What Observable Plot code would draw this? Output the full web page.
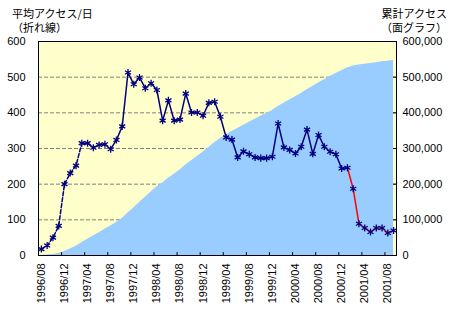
<!DOCTYPE html>
<html><head><meta charset="utf-8">
<script src="https://cdn.jsdelivr.net/npm/d3@7"></script>
<script src="https://cdn.jsdelivr.net/npm/@observablehq/plot@0.6"></script>
<style>
body{margin:0;background:#fff;}
#wrap{position:relative;width:457px;height:312px;}
#wrap svg{position:absolute;left:0;top:0;}
.t{position:absolute;font-family:"Noto Sans CJK JP",sans-serif;font-size:11px;line-height:13.5px;white-space:pre;color:#000;z-index:2}
</style></head><body>
<div id="wrap">
<div class="t" style="left:12px;top:7px">平均アクセス/日
（折れ線）</div>
<div class="t" style="left:381px;top:7px;text-align:right">累計アクセス
（面グラフ）</div>
</div>
<script>
const months = ["1996/08","1996/09","1996/10","1996/11","1996/12","1997/01","1997/02","1997/03","1997/04","1997/05","1997/06","1997/07","1997/08","1997/09","1997/10","1997/11","1997/12",
"1998/01","1998/02","1998/03","1998/04","1998/05","1998/06","1998/07","1998/08","1998/09","1998/10","1998/11","1998/12",
"1999/01","1999/02","1999/03","1999/04","1999/05","1999/06","1999/07","1999/08","1999/09","1999/10","1999/11","1999/12",
"2000/01","2000/02","2000/03","2000/04","2000/05","2000/06","2000/07","2000/08","2000/09","2000/10","2000/11","2000/12",
"2001/01","2001/02","2001/03","2001/04","2001/05","2001/06","2001/07","2001/08","2001/09"];
const dailyAccess = [18,28,50,83,200,231,252,315,315,302,310,312,298,324,362,513,480,
499,469,483,464,378,435,378,381,454,401,401,392,
428,431,389,331,325,275,292,284,275,273,273,277,
370,303,296,286,305,353,285,338,305,291,284,244,
246,187,89,77,66,77,77,63,70];
const cumulativeAccess = [500,1400,2900,5400,11500,18500,26200,35800,45400,54500,64000,73500,82500,92400,103400,119000,133500,
148700,163000,177700,191800,203300,216500,228000,239600,253400,265500,277700,289700,
302700,315800,327600,337700,347500,355900,364800,373400,381800,390100,398400,406800,
418000,427200,436200,444900,454200,464900,473600,483900,493100,502000,510600,518000,
525500,531200,533900,536300,538300,540600,542900,544900,547000];
const tickLabels = ["1996/08","1996/12","1997/04","1997/08","1997/12","1998/04","1998/08","1998/12","1999/04","1999/08","1999/12","2000/04","2000/08","2000/12","2001/04","2001/08"];
const leftTicks = [0,100,200,300,400,500,600];
const rightTicks = [0,100000,200000,300000,400000,500000,600000];
const gridValues = [100,200,300,400,500];

const data = months.map((m,i)=>({i, m, daily: dailyAccess[i], cum: cumulativeAccess[i]}));
const tickIdx = tickLabels.map(l=>months.indexOf(l));
const boundaries = tickIdx.map(i=>i-0.5);
const n = months.length;
const fmt = d3.format(",");

const chart = Plot.plot({
  width:457, height:312, marginLeft:38, marginRight:61, marginTop:41, marginBottom:57,
  style:{fontFamily:"'Liberation Sans', Arial, sans-serif", fontSize:"11px", background:"transparent", color:"#000"},
  x:{domain:[-0.5, n-0.5]},
  y:{domain:[0,600]},
  marks:[
    Plot.frame({fill:"#FFFFCC"}),
    Plot.ruleY(gridValues,{stroke:"#808080",strokeDasharray:"4,2"}),
    Plot.areaY(data,{x:"i",y:d=>d.cum/1000,fill:"#99CCFF"}),
    Plot.lineY(data.slice(0,8),{x:"i",y:"daily",stroke:"#000080",strokeWidth:1.5,strokeDasharray:"4,2"}),
    Plot.lineY(data.slice(7,54),{x:"i",y:"daily",stroke:"#000080",strokeWidth:1.5}),
    Plot.lineY(data.slice(53),{x:"i",y:"daily",stroke:"#FF0000",strokeWidth:1.5}),
    Plot.dot(data,{x:"i",y:"daily",symbol:"asterisk",r:3.3,stroke:"#000080",strokeWidth:1.3}),
    Plot.frame({stroke:"#000"}),
    Plot.ruleY(rightTicks.map(v=>v/1000),{x1:n-1,x2:n-0.5,stroke:"#000"}),
    Plot.ruleX(boundaries,{y1:0,y2:8,stroke:"#000"}),
    Plot.axisY(leftTicks,{anchor:"left",tickSize:0,tickPadding:13,label:null}),
    Plot.axisY(rightTicks.map(v=>v/1000),{anchor:"right",tickSize:0,tickPadding:6,tickFormat:d=>fmt(d*1000),label:null}),
    Plot.axisX(tickIdx,{anchor:"bottom",tickSize:0,tickRotate:-90,tickPadding:8,tickFormat:i=>months[i],label:null})
  ]
});
document.getElementById("wrap").appendChild(chart);
</script>
</body></html>
